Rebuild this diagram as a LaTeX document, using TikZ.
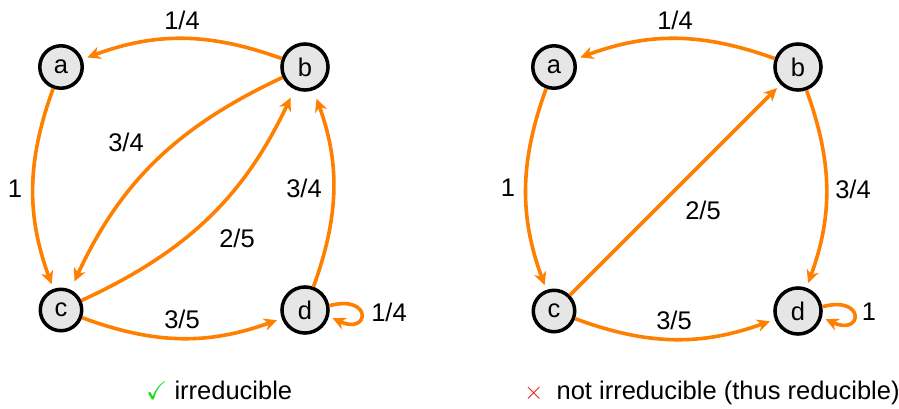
\documentclass[tikz,border=0pt]{standalone}
\usepackage{fontspec}
\usepackage{amssymb}
\setmainfont{Liberation Sans}
\usetikzlibrary{arrows.meta}
\definecolor{edgeorange}{RGB}{255,128,0}
\definecolor{nodegray}{RGB}{230,230,230}
\definecolor{okgreen}{RGB}{20,220,20}
\definecolor{nored}{RGB}{235,20,20}

\begin{document}
\begin{tikzpicture}[x=1pt,y=1pt,
  state/.style={circle,draw=black,line width=3.5pt,fill=nodegray,inner sep=8pt,
    font=\fontsize{25.5}{30}\selectfont},
  trans/.style={draw=edgeorange,line width=3.6pt,
    -{Stealth[length=13pt,width=12.5pt,inset=4pt]},shorten >=5pt},
  prob/.style={inner sep=0pt,font=\fontsize{25.5}{30}\selectfont},
]
\useasboundingbox (0,0) rectangle (899,-408);

% ---------- irreducible chain ----------
\node[state] (a1) at (61,-67)  {a};
\node[state] (b1) at (305,-67) {b};
\node[state] (c1) at (61,-310) {c};
\node[state] (d1) at (305,-310) {d};

\draw[trans] (b1) to[bend right=20] (a1);
\draw[trans] (a1) to[bend right=20] (c1);
\draw[trans,shorten >=9pt] (b1) to[bend right=20] (c1);
\draw[trans,shorten >=9pt] (c1) to[bend right=20] (b1);
\draw[trans,shorten >=9pt] (d1) to[bend right=20] (b1);
\draw[trans] (c1) to[bend right=20] (d1);
\draw[trans,shorten >=4pt] (d1.10) .. controls +(15:45) and +(-25:45) .. (d1.-15);

\node[prob] (p1ba) at (182,-20)  {1/4};
\node[prob] (p1ac) at (15,-189)  {1};
\node[prob] (p1bc) at (126,-142) {3/4};
\node[prob] (p1cb) at (237,-238) {2/5};
\node[prob] (p1db) at (304,-188) {3/4};
\node[prob] (p1cd) at (182,-319) {3/5};
\node[prob] (p1dd) at (389,-312) {1/4};

\node[prob,anchor=base west] (cap1) at (146,-399)
  {\textcolor{okgreen}{$\checkmark$} irreducible};

% ---------- reducible chain ----------
\node[state] (a2) at (554,-67)  {a};
\node[state] (b2) at (798,-67)  {b};
\node[state] (c2) at (554,-311) {c};
\node[state] (d2) at (798,-311) {d};

\draw[trans] (b2) to[bend right=20] (a2);
\draw[trans] (a2) to[bend right=20] (c2);
\draw[trans] (c2) -- (b2);
\draw[trans] (b2) to[bend left=20] (d2);
\draw[trans] (c2) to[bend right=20] (d2);
\draw[trans,shorten >=4pt] (d2.10) .. controls +(15:45) and +(-25:45) .. (d2.-15);

\node[prob] (p2ba) at (675,-20)  {1/4};
\node[prob] (p2ac) at (508,-188) {1};
\node[prob] (p2cb) at (703,-210) {2/5};
\node[prob] (p2bd) at (853,-189) {3/4};
\node[prob] (p2cd) at (674,-320) {3/5};
\node[prob] (p2dd) at (869,-312) {1};

\node[prob,anchor=base west] (cap2) at (524,-399)
  {\textcolor{nored}{$\times$}\hspace{6pt} not irreducible (thus reducible)};
\end{tikzpicture}
\end{document}
